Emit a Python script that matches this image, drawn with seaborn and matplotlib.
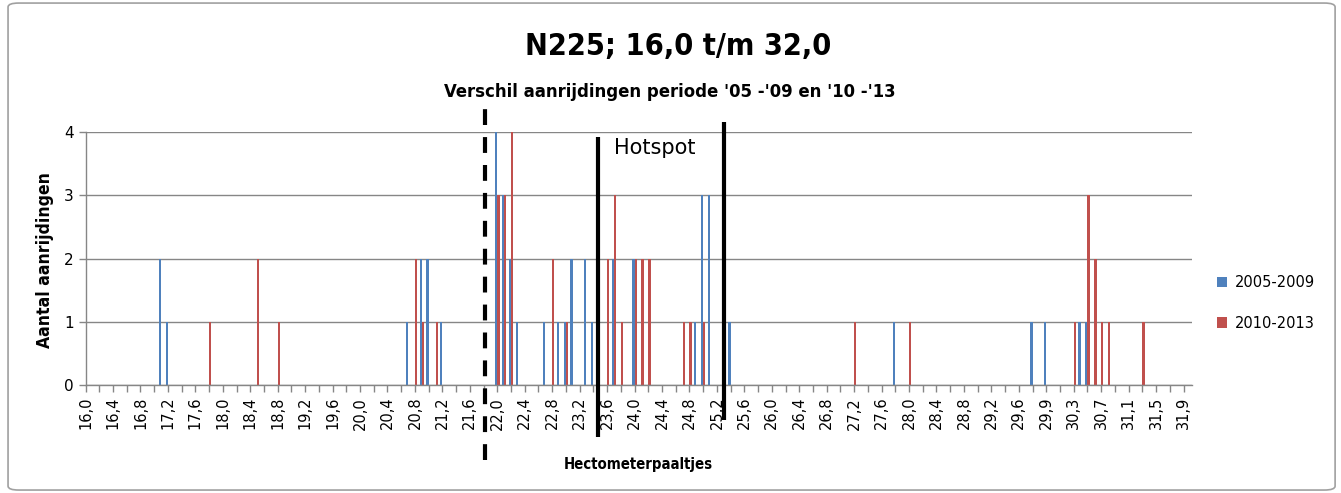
import seaborn as sns
import matplotlib.pyplot as plt
import pandas as pd
from matplotlib.patches import FancyBboxPatch

# hectometerpaaltjes 16,0 .. 29,6, een extra paal bij 29,8, daarna 29,9 .. 32,0
hm_start = [f"{v / 10:.1f}".replace('.', ',') for v in range(160, 297)]
hm_extra = ['29,7', '29,8', '29,85']
hm_end = [f"{v / 10:.1f}".replace('.', ',') for v in range(299, 321)]
categories = hm_start + hm_extra + hm_end

# aantal aanrijdingen (alleen paaltjes met > 0)
p1_hm = ['17,1', '17,2', '20,7', '20,9', '21,0', '21,2', '22,0', '22,1', '22,2', '22,3',
         '22,7', '22,9', '23,0', '23,1', '23,3', '23,4', '23,7', '24,0', '24,9', '25,0',
         '25,1', '25,4', '27,8', '29,8', '29,9', '30,4', '30,5']
p1_n = [2, 1, 1, 2, 2, 1, 4, 3, 2, 1,
        1, 1, 1, 2, 2, 1, 2, 2, 1, 3,
        3, 1, 1, 1, 1, 1, 1]

p2_hm = ['17,8', '18,5', '18,8', '20,8', '20,9', '21,1', '22,0', '22,1', '22,2', '22,8',
         '23,0', '23,6', '23,7', '23,8', '24,0', '24,1', '24,2', '24,7', '24,8', '25,0',
         '27,2', '28,0', '30,3', '30,5', '30,6', '30,7', '30,8', '31,3']
p2_n = [1, 2, 1, 2, 1, 1, 3, 3, 4, 2,
        1, 2, 3, 1, 2, 2, 2, 1, 1, 1,
        1, 1, 1, 3, 2, 1, 1, 1]

periods = ['2005-2009', '2010-2013']
colors = ['#4F81BD', '#C0504D']

rows = []
for per, hms, ns in [(periods[0], p1_hm, p1_n), (periods[1], p2_hm, p2_n)]:
    lookup = dict(zip(hms, ns))
    for c in categories:
        rows.append({'hm': c, 'n': lookup.get(c, 0), 'periode': per})
df = pd.DataFrame(rows)

# markeringen (handgetekende lijnen in het origineel)
dash_x, dash_y = 58.25, (-1.19, 4.46)
hot_x = [74.62, 93.03]
hot_y = [(-0.82, 3.92), (-0.55, 4.16)]

sns.set_style('white')
plt.rcParams['font.family'] = ['DejaVu Sans']
plt.rcParams['text.color'] = 'black'
plt.rcParams['xtick.labelcolor'] = 'black'
plt.rcParams['ytick.labelcolor'] = 'black'

fig = plt.figure(figsize=(13.41, 4.93), dpi=100)
ax = fig.add_axes([0.0638, 0.219, 0.8249, 0.5132])

sns.barplot(data=df, x='hm', y='n', hue='periode', order=categories,
            hue_order=periods, palette=colors, saturation=1, width=0.67,
            linewidth=0, errorbar=None, ax=ax)

ax.set_xlim(0, 161.2)
ax.set_ylim(0, 4)
ax.set_yticks(range(5))
ax.set_yticklabels([str(v) for v in range(5)], fontsize=11)
ax.set_xticks(range(0, 161, 4))
ax.set_xticklabels([categories[i] for i in range(0, 161, 4)], rotation=90, fontsize=10.5)
ax.set_xticks(range(2, 161, 4), minor=True)
ax.tick_params(axis='both', which='both', direction='out', length=5, width=1,
               color='#868686', labelcolor='black', bottom=True, left=True)
ax.grid(axis='y', color='#868686', linewidth=1)
ax.set_axisbelow(True)
for s in ['top', 'right']:
    ax.spines[s].set_visible(False)
for s in ['left', 'bottom']:
    ax.spines[s].set_color('#868686')
    ax.spines[s].set_linewidth(1)
ax.set_xlabel('')
ax.set_ylabel('')

ax.plot([dash_x, dash_x], dash_y, color='black', linewidth=3, dashes=(3.8, 2.9),
        solid_capstyle='butt', dash_capstyle='butt', clip_on=False, zorder=5)
for x, yy in zip(hot_x, hot_y):
    ax.plot([x, x], yy, color='black', linewidth=3, solid_capstyle='butt',
            clip_on=False, zorder=5)
ax.text(82.97, 3.75, 'Hotspot', fontsize=15, ha='center', va='center', color='black')

handles, labels = ax.get_legend_handles_labels()
ax.legend(handles, labels, loc='center left', bbox_to_anchor=(1.011, 0.325),
          frameon=False, fontsize=10.5, handlelength=0.7, handleheight=0.7,
          handletextpad=0.5, labelspacing=1.75)

fig.text(0.506, 0.905, 'N225; 16,0 t/m 32,0', ha='center', va='center',
         fontsize=22, fontweight='bold', fontstretch='condensed')
fig.text(0.4996, 0.813, "Verschil aanrijdingen periode '05 -'09 en '10 -'13",
         ha='center', va='center', fontsize=13.2, fontweight='bold', fontstretch='condensed')
fig.text(0.0336, 0.473, 'Aantal aanrijdingen', rotation=90, ha='center', va='center',
         fontsize=12.6, fontweight='bold', fontstretch='condensed')
fig.text(0.476, 0.057, 'Hectometerpaaltjes', ha='center', va='center',
         fontsize=10.7, fontweight='bold', fontstretch='condensed')

fig.patches.append(FancyBboxPatch((0.006, 0.006), 0.9896, 0.9878,
                                  boxstyle='round,pad=0,rounding_size=0.008',
                                  transform=fig.transFigure, facecolor='none',
                                  edgecolor='#A0A0A0', linewidth=1.2))

fig.savefig('out.png', dpi=100)
